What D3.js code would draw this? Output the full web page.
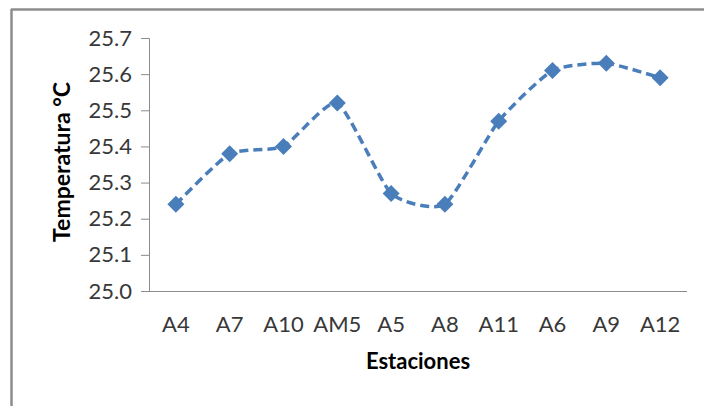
<!DOCTYPE html>
<html>
<head>
<meta charset="utf-8">
<script src="https://cdn.jsdelivr.net/npm/d3@7"></script>
<style>
  html, body { margin: 0; padding: 0; background: #fff; }
  svg { display: block; }
</style>
</head>
<body>
<script>
// Stations along the x-axis and the mean temperature at each
const estaciones = ["A4", "A7", "A10", "AM5", "A5", "A8", "A11", "A6", "A9", "A12"];
const temperaturas = [25.24, 25.38, 25.40, 25.52, 25.27, 25.24, 25.47, 25.61, 25.63, 25.59];
const yTicks = [25.0, 25.1, 25.2, 25.3, 25.4, 25.5, 25.6, 25.7];

const W = 704, H = 406;
const margin = { left: 149, right: 17, top: 38, bottom: 115 };
const plotW = W - margin.left - margin.right;
const plotH = H - margin.top - margin.bottom;

const font = "Lato, 'Open Sans', sans-serif";
const textColor = "#383838";
const lineColor = "#4A7EBB";

const svg = d3.select("body").append("svg")
  .attr("width", W).attr("height", H);

// outer frame
svg.append("line").attr("x1", 11).attr("x2", W).attr("y1", 9.5).attr("y2", 9.5)
  .attr("stroke", "#8c8c8c").attr("stroke-width", 2.5);
svg.append("line").attr("x1", 11.5).attr("x2", 11.5).attr("y1", 9).attr("y2", H)
  .attr("stroke", "#8c8c8c").attr("stroke-width", 2.5);

const g = svg.append("g").attr("transform", `translate(${margin.left},${margin.top})`);

const x = d3.scaleBand().domain(estaciones).range([0, plotW]);
const y = d3.scaleLinear().domain([25.0, 25.7]).range([plotH, 0]);

// y axis
const yAxis = g.append("g")
  .call(d3.axisLeft(y).tickValues(yTicks).tickFormat(d3.format(".1f")).tickSize(8).tickPadding(9));
yAxis.select(".domain").attr("stroke", "#8c8c8c");
yAxis.selectAll(".tick line").attr("stroke", "#8c8c8c");
yAxis.selectAll("text").attr("fill", textColor).style("font-family", font).style("font-size", "22px");

// x axis
const xAxis = g.append("g").attr("transform", `translate(0,${plotH})`)
  .call(d3.axisBottom(x).tickSize(0).tickPadding(25));
xAxis.select(".domain").attr("stroke", "#8c8c8c").attr("d", `M0,0.5H${plotW}`);
xAxis.selectAll("text").attr("fill", textColor).style("font-family", font).style("font-size", "22px");

const data = estaciones.map((e, i) => ({ e, v: temperaturas[i] }));
const cx = d => x(d.e) + x.bandwidth() / 2;

// smoothed dashed line
g.append("path").datum(data)
  .attr("fill", "none")
  .attr("stroke", lineColor)
  .attr("stroke-width", 3.5)
  .attr("stroke-dasharray", "9,5")
  .attr("d", d3.line().x(cx).y(d => y(d.v)).curve(d3.curveCardinal.tension(0.45)));

// diamond markers
g.selectAll(".m").data(data).enter().append("path")
  .attr("class", "m")
  .attr("transform", d => `translate(${cx(d)},${y(d.v)})`)
  .attr("d", "M0,-8.5L8.5,0L0,8.5L-8.5,0Z")
  .attr("fill", lineColor);

// axis titles
svg.append("text")
  .attr("x", margin.left + plotW / 2).attr("y", 369)
  .attr("text-anchor", "middle")
  .style("font-family", font).style("font-size", "22px").style("font-weight", "bold")
  .attr("fill", "#000")
  .text("Estaciones");

svg.append("text")
  .attr("transform", `translate(70,162) rotate(-90)`)
  .attr("text-anchor", "middle")
  .style("font-family", font).style("font-size", "23px").style("font-weight", "bold")
  .attr("fill", "#000")
  .text("Temperatura °C");
</script>
</body>
</html>
